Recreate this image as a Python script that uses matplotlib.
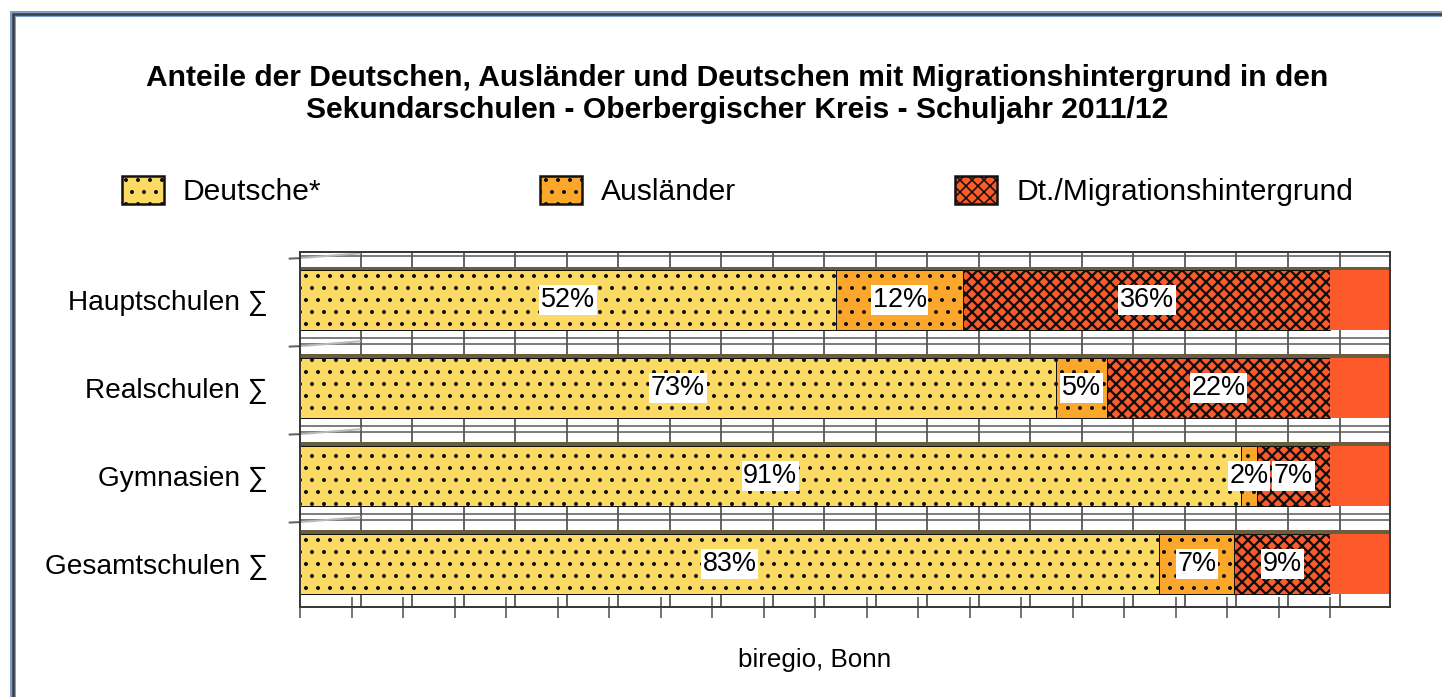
import numpy as np
import matplotlib
matplotlib.use('Agg')
import matplotlib.pyplot as plt
from matplotlib.patches import Rectangle

# data (percent)
schulen = ['Hauptschulen ∑', 'Realschulen ∑', 'Gymnasien ∑', 'Gesamtschulen ∑']
deutsche = [52.0, 73.4, 91.3, 83.4]
auslaender = [12.4, 4.9, 1.6, 7.3]
migration = [35.6, 21.7, 7.1, 9.3]
serien = ['Deutsche*', 'Ausländer', 'Dt./Migrationshintergrund']

titel = ('Anteile der Deutschen, Ausländer und Deutschen mit Migrationshintergrund in den\n'
         'Sekundarschulen - Oberbergischer Kreis - Schuljahr 2011/12')
quelle = 'biregio, Bonn'

plt.rcParams['font.family'] = ['Liberation Sans', 'DejaVu Sans']
plt.rcParams['hatch.linewidth'] = 1.6

W, H = 1442, 697
fig = plt.figure(figsize=(W / 72, H / 72), dpi=72)
fig.patch.set_facecolor('white')

# outer frame of the screenshot
fig.add_artist(Rectangle((13 / W, -0.05), 1.1, 1 - 14 / H + 0.05, transform=fig.transFigure,
                         fill=False, ec='#7d9fd0', lw=6))
fig.add_artist(Rectangle((13 / W, -0.05), 1.1, 1 - 14 / H + 0.05, transform=fig.transFigure,
                         fill=False, ec='#3c3c3c', lw=2.5))

ax = fig.add_axes([300 / W, 1 - 607 / H, 1090 / W, 355 / H])
xmax = 105.8
ax.set_xlim(0, xmax)
ax.set_ylim(3.49, -0.545)

y = np.arange(len(schulen))
h = 0.68

# back wall grid
ax.vlines(np.arange(5, 101, 5) + 0.9, -0.545, 3.49, color='#555555', lw=1.8, zorder=0)
for b in [-0.5, 0.5, 1.5, 2.5]:
    ax.hlines([b - 0.07, b], 0, xmax, color='#555555', lw=1.5, zorder=0)
    ax.plot([-1.0, 0.0], [b + 0.03, b + 0.025], color='#606060', lw=2, clip_on=False, zorder=1)
    ax.plot([0.0, 5.8], [b + 0.025, b - 0.03], color='#b8b8b8', lw=2, clip_on=False, zorder=1)

farben = ['#fbdb63', '#fba72c', '#fd5a2b']
muster = ['.', '.', 'xx']
strich = [1.6, 1.6, 2.3]
links = np.zeros(len(schulen))
for werte, farbe, hatch, hlw, name in zip([deutsche, auslaender, migration], farben, muster, strich, serien):
    with plt.rc_context({'hatch.linewidth': hlw}):
        ax.barh(y, werte, left=links, height=h, color=farbe, hatch=hatch,
                edgecolor='#111111', lw=1.0, label=name, zorder=2)
    for xi, yi, v in zip(links, y, werte):
        ax.text(xi + v / 2, yi, f'{v:.0f}%', ha='center', va='center', fontsize=27,
                zorder=4, bbox=dict(fc='white', ec='none', pad=1.5))
    links = links + np.array(werte)

# end cap of the 3d bars
ax.barh(y, xmax - links, left=links, height=h, color='#fd5a2b', lw=0, zorder=2)
# dark top face of the 3d bars
ax.barh(y - h / 2 - 0.02, xmax, left=0, height=0.04, color='#6a5c3c', lw=0, zorder=1)

ax.set_yticks(y)
ax.set_yticklabels(schulen, fontsize=28)
ax.tick_params(axis='y', length=0, pad=32)
ax.set_xticks(np.arange(0, 101, 5))
ax.set_xticklabels([])
ax.tick_params(axis='x', direction='inout', length=21, width=1.6, color='#555555')
for s in ['left', 'right', 'top', 'bottom']:
    ax.spines[s].set_color('#3a3a3a')
    ax.spines[s].set_linewidth(2)

leg = fig.legend(loc='upper left', bbox_to_anchor=(122 / W, 1 - 176 / H), ncol=3, frameon=False,
                 fontsize=30, handlelength=1.4, handleheight=1.07, handletextpad=0.63,
                 columnspacing=7.3, borderpad=0, borderaxespad=0)
for p in leg.get_patches():
    p.set_linewidth(2.5)
    p.set_edgecolor('#111111')

fig.text(737 / W, 1 - 94 / H, titel, ha='center', va='center', fontsize=30,
         fontweight='bold', linespacing=1.22)
fig.text(815 / W, 1 - 660 / H, quelle, ha='center', va='center', fontsize=26)

fig.savefig('out.png', dpi=72)
